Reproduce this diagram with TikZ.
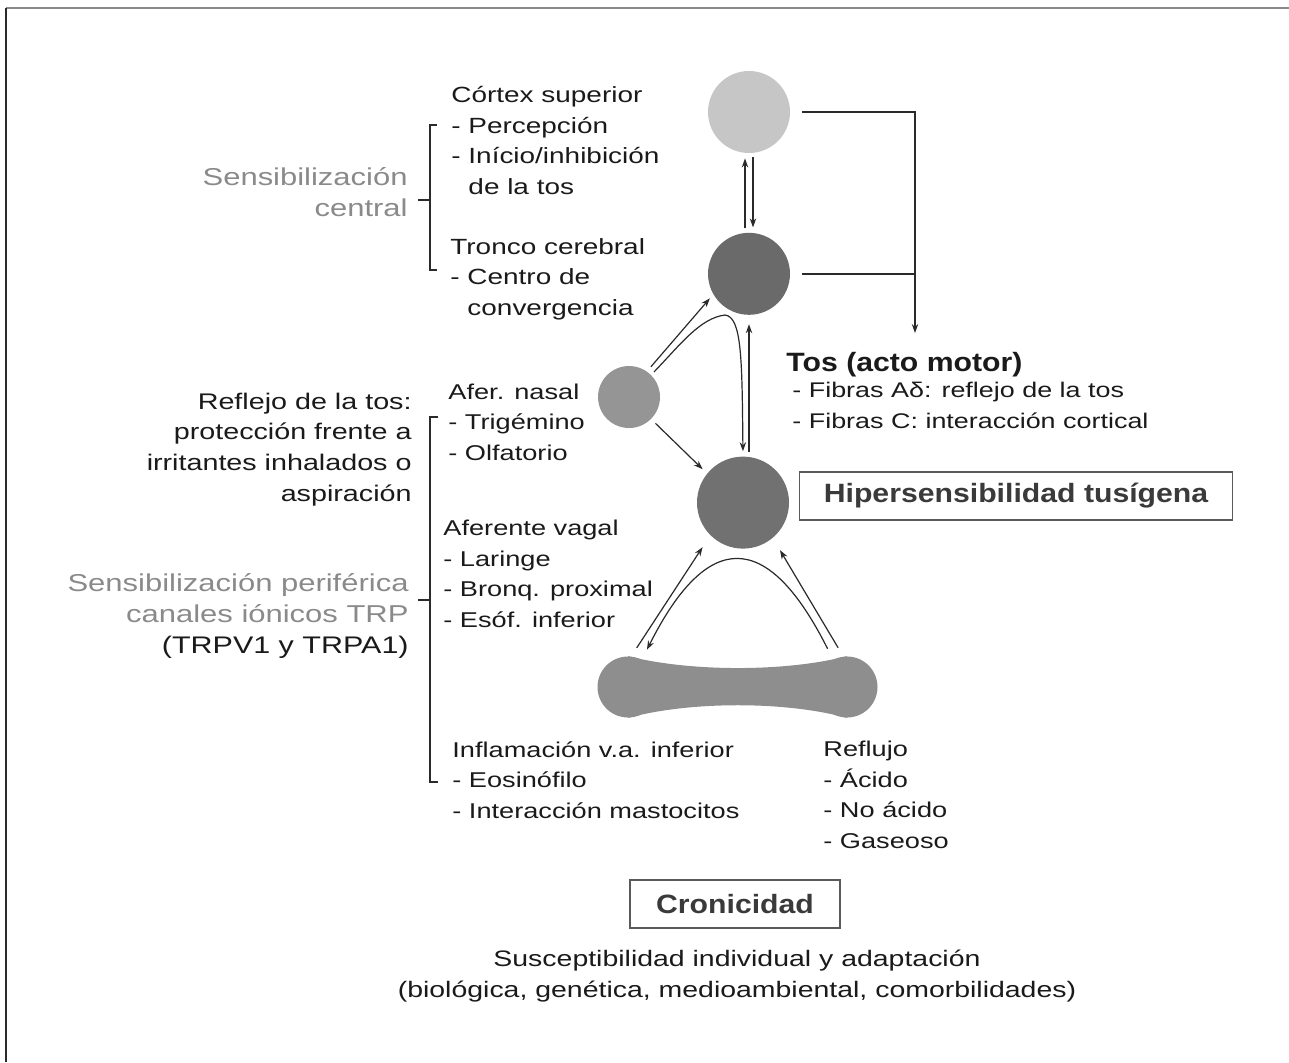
\documentclass[tikz,border=0pt]{standalone}
\usepackage{fontspec}
\setmainfont{Liberation Sans}[FakeStretch=1.27]
\newfontfamily\boldsans{Liberation Sans}[FakeStretch=1.14]
\usetikzlibrary{arrows.meta,positioning,calc}

\definecolor{inkc}{HTML}{1A1A1A}
\definecolor{softc}{HTML}{8A8A8A}
\definecolor{boxtextc}{HTML}{3A3A3A}
\definecolor{boxlinec}{HTML}{5A5A5A}
\definecolor{linec}{HTML}{2A2A2A}
\definecolor{cortexc}{HTML}{C6C6C6}
\definecolor{troncoc}{HTML}{6A6A6A}
\definecolor{nasalc}{HTML}{959595}
\definecolor{hiperc}{HTML}{717171}
\definecolor{bonec}{HTML}{8E8E8E}

\tikzset{
  blob/.style={circle, draw=none, inner sep=0pt},
  txt/.style={inner sep=0pt, align=left, text=inkc, font=\fontsize{11}{15.2}\selectfont},
  smalltxt/.style={txt, font=\fontsize{10.7}{15.2}\selectfont},
  sidetxt/.style={inner sep=0pt, align=right, text=inkc, font=\fontsize{12}{15.3}\selectfont},
  softtxt/.style={text=softc},
  head/.style={inner sep=0pt, text=inkc, font=\boldsans\bfseries\fontsize{13.25}{16}\selectfont},
  tagbox/.style={draw=boxlinec, line width=0.7pt, inner sep=0pt, minimum height=24pt, text=boxtextc, font=\boldsans\bfseries\fontsize{13.25}{16}\selectfont},
  ln/.style={draw=linec, line width=0.7pt},
  arr/.style={draw=linec, line width=0.6pt, -{Stealth[length=4.5pt,width=3.2pt]}, shorten >=2.5pt, shorten <=2pt},
}

\begin{document}
\begin{tikzpicture}[x=0.5pt, y=-0.5pt]
          \useasboundingbox (0,0) rectangle (1289,1062);
          \draw[draw=softc, line width=0.8pt] (6,8) -- (1289,8);
          \draw[draw=linec, line width=1pt] (6,8) -- (6,1062);

          % nodes (base anchor of a multi-line node = its last line)
          \node[blob, fill=cortexc, minimum size=41pt] (cortex) at (749,112) {};%
          \node[blob, fill=troncoc, minimum size=41pt, below=39.5pt of cortex] (tronco) {};%
          \node[blob, fill=nasalc, minimum size=31pt] (nasal) at (629,397) {};%
          \node[blob, fill=hiperc, minimum size=46pt, below=70.5pt of tronco, xshift=-3pt] (hiper) {};%
          \node[blob, fill=bonec, minimum size=30.5pt] (bulb_left) at (628,687) {};%
          \node[blob, fill=bonec, minimum size=30.5pt] (bulb_right) at (847,687) {};%
          \fill[bonec] (bulb_left.north) .. controls (690,672) and (786,672) .. (bulb_right.north)
               -- (bulb_right.south) .. controls (786,701) and (690,701) .. (bulb_left.south) -- cycle;

          \node[txt, anchor=base west] (cortex_text) at (451,194) {C\'ortex superior\\- Percepci\'on\\- In\'icio/inhibici\'on\\\hphantom{- }de la tos};
          \node[txt, anchor=base west] (tronco_text) at (450,315) {Tronco cerebral\\- Centro de\\\hphantom{- }convergencia};
          \node[sidetxt, softtxt, font=\fontsize{12.2}{15.5}\selectfont, anchor=base east] (central_text) at (408,216) {Sensibilizaci\'on\\central};

          \node[sidetxt, font=\fontsize{11.3}{15.3}\selectfont, anchor=base east] (reflejo_text) at (412,501) {Reflejo de la tos:\\protecci\'on frente a\\irritantes inhalados o\\aspiraci\'on};
          \node[sidetxt, anchor=base east] (periferica_text) at (409,653) {\textcolor{softc}{\fontsize{12.2}{15.3}\selectfont Sensibilizaci\'on perif\'erica}\\\textcolor{softc}{\fontsize{12.2}{15.3}\selectfont canales i\'onicos TRP}\\(TRPV1 y TRPA1)};

          \node[smalltxt, anchor=base west] (nasal_text) at (448,460) {Afer. nasal\\- Trig\'emino\\- Olfatorio};
          \node[smalltxt, anchor=base west] (vagal_text) at (443,627) {Aferente vagal\\- Laringe\\- Bronq. proximal\\- Es\'of. inferior};
          \node[smalltxt, anchor=base west] (inflam_text) at (452,818) {Inflamaci\'on v.a. inferior\\- Eosin\'ofilo\\- Interacci\'on mastocitos};
          \node[smalltxt, anchor=base west] (reflujo_text) at (823,848) {Reflujo\\- \'Acido\\- No \'acido\\- Gaseoso};

          \node[head, anchor=base west] (tos) at (786,371) {Tos (acto motor)};
          \node[txt, font=\fontsize{10.6}{15.2}\selectfont, anchor=base west] (fibras) at (792,428) {- Fibras Aδ: reflejo de la tos\\- Fibras C: interacci\'on cortical};

          \node[tagbox, minimum width=216.5pt] (hiper_box) at (1016,496) {Hipersensibilidad tus\'igena};
          \node[tagbox, minimum width=105pt] (cron_box) at (735,904) {Cronicidad};
          \node[txt, font=\fontsize{11.2}{15.4}\selectfont, align=center, anchor=base] (suscept) at (737,997) {Susceptibilidad individual y adaptaci\'on\\(biol\'ogica, gen\'etica, medioambiental, comorbilidades)};

          % brackets
          \draw[ln] (437,125) -- (430,125) -- (430,270) -- (437,270);
          \draw[ln] (418,200) -- (430,200);
          \draw[ln] (438,417) -- (430,417) -- (430,782) -- (438,782);
          \draw[ln] (418,600) -- (430,600);

          % edges
          \coordinate (motor) at (915,333);
          \draw[arr] ([xshift=-2pt]tronco.north) -- ([xshift=-2pt]cortex.south);
          \draw[arr] ([xshift=2pt]cortex.south) -- ([xshift=2pt]tronco.north);
          \draw[arr, shorten <=6pt, shorten >=0pt] (cortex.east) -| (motor);
          \draw[ln, shorten <=6pt] (tronco.east) -- (tronco.east -| motor);

          \draw[arr, shorten <=3pt] (nasal.55) -- (tronco.210);
          \draw[arr] (nasal.45) .. controls (680,345) and (700,318) .. (725,315) .. controls (742,317) and (742,360) .. (hiper.north);
          \draw[arr, shorten >=4.5pt] (tronco.south |- hiper.north) -- (tronco.south);
          \draw[arr, shorten <=3pt, shorten >=3pt] (nasal.-45) -- (hiper.141);

          \draw[arr, shorten <=5pt, shorten >=7pt] (bulb_left.84) -- (hiper.225);
          \draw[arr, shorten <=5pt, shorten >=7pt] (bulb_right.97) -- (hiper.-50);
          \draw[arr, shorten <=6pt, shorten >=5.5pt] (bulb_right.117) .. controls (767,528) and (707,530) .. (bulb_left.63);
\end{tikzpicture}
\end{document}
